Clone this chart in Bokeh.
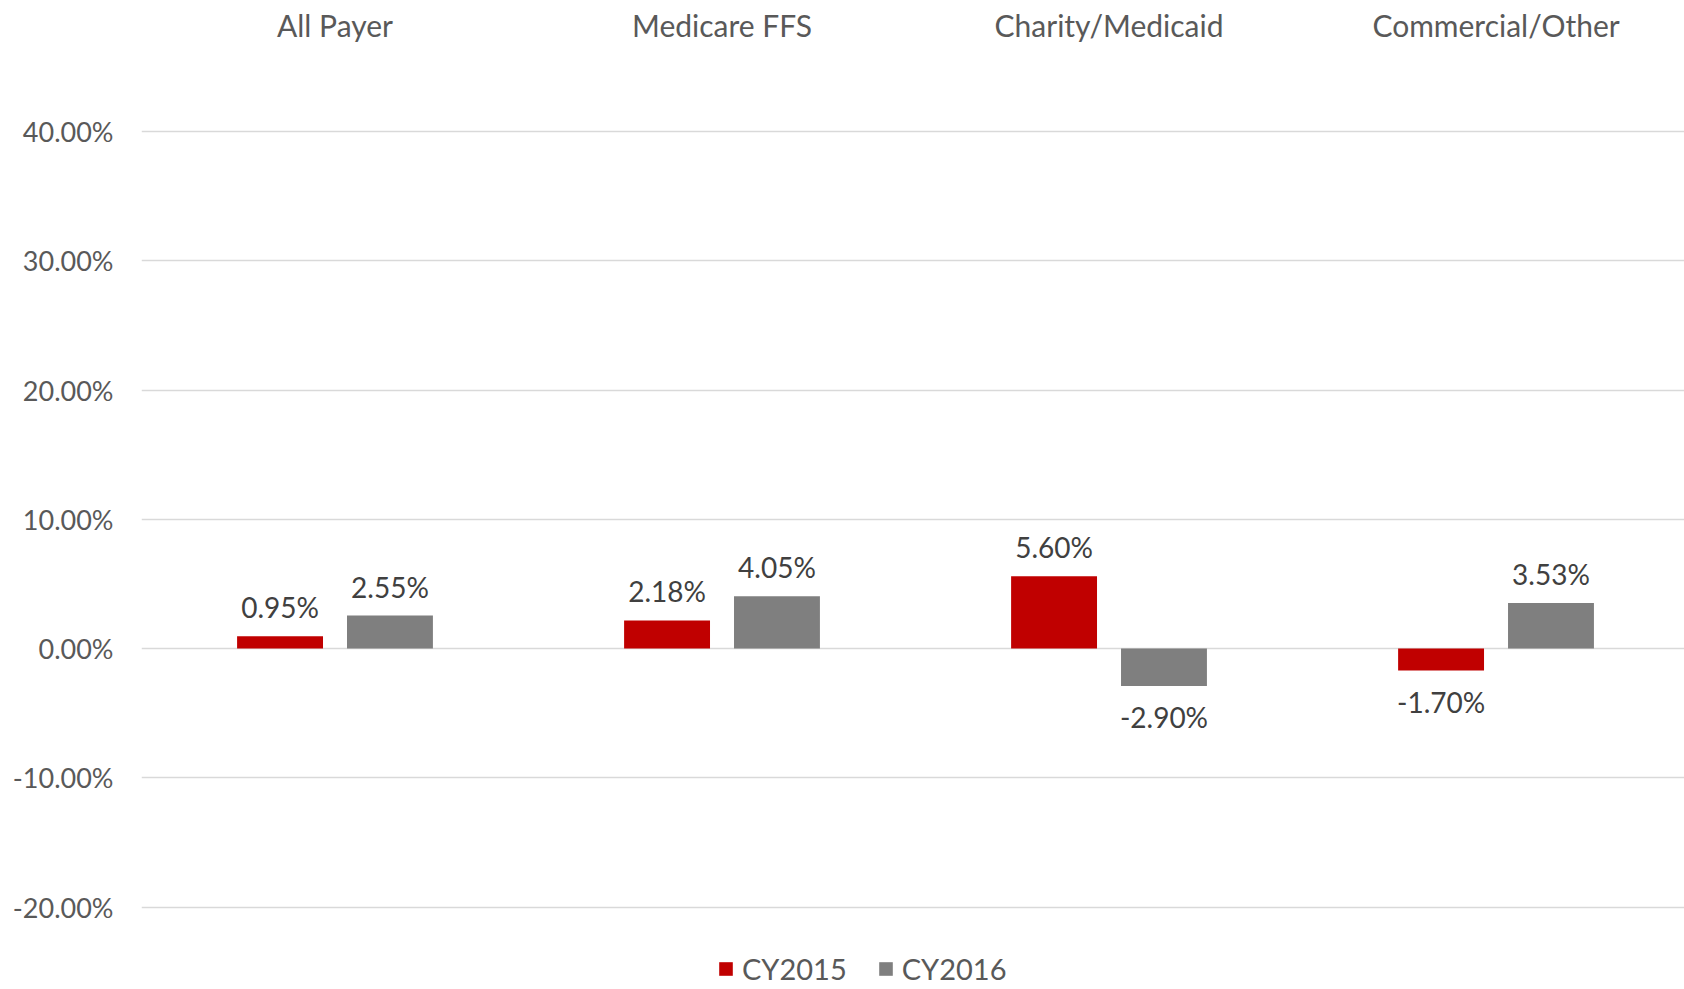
from bokeh.plotting import figure
from bokeh.models import (ColumnDataSource, Range1d, LinearAxis,
                          NumeralTickFormatter, FixedTicker, Legend, LegendItem)
from bokeh.core.properties import value
from bokeh.embed import file_html
from bokeh.resources import INLINE

categories = ["All Payer", "Medicare FFS", "Charity/Medicaid", "Commercial/Other"]
cy2015 = [0.95, 2.18, 5.60, -1.70]
cy2016 = [2.55, 4.05, -2.90, 3.53]
series_names = ["CY2015", "CY2016"]
y_ticks = [-20, -10, 0, 10, 20, 30, 40]

FONT = "Lato"
RED = "#C00000"
GRAY = "#7F7F7F"
TXT = "#595959"
LBL = "#404040"

OFF = 0.142
BAR_W = 0.222
cat_pos = [i + 0.5 for i in range(len(categories))]


def make_source(vals, shift):
    return ColumnDataSource(dict(
        x=[c + shift for c in cat_pos],
        top=[v / 100 for v in vals],
        label=[f"{v:.2f}%" for v in vals],
        yoff=[-29 if v >= 0 else 31 for v in vals],
    ))


s15 = make_source(cy2015, -OFF)
s16 = make_source(cy2016, OFF)

p = figure(width=1684, height=989, x_range=Range1d(0, 3.987),
           y_range=Range1d(-0.2637, 0.4077), output_backend="svg", toolbar_location=None,
           x_axis_location=None, y_axis_location=None,
           min_border_left=141, min_border_right=0, min_border_top=121, min_border_bottom=0)
p.outline_line_color = None
p.background_fill_color = "white"
p.border_fill_color = "white"

yax = LinearAxis(ticker=FixedTicker(ticks=[t / 100 for t in y_ticks]),
                 formatter=NumeralTickFormatter(format="0.00%"))
yax.axis_line_color = None
yax.major_tick_line_color = None
yax.minor_tick_line_color = None
yax.major_label_text_font = FONT
yax.major_label_text_font_size = "27px"
yax.major_label_text_color = TXT
yax.major_label_standoff = 22
p.add_layout(yax, "left")

xax = LinearAxis(ticker=FixedTicker(ticks=cat_pos),
                 major_label_overrides={c: name for c, name in zip(cat_pos, categories)})
xax.axis_line_color = None
xax.major_tick_line_color = None
xax.minor_tick_line_color = None
xax.major_tick_out = 0
xax.major_tick_in = 0
xax.major_label_text_font = FONT
xax.major_label_text_font_size = "30px"
xax.major_label_text_color = TXT
xax.major_label_standoff = 79
p.add_layout(xax, "above")

p.xgrid.grid_line_color = None
p.ygrid.ticker = FixedTicker(ticks=[t / 100 for t in y_ticks])
p.ygrid.grid_line_color = "#D9D9D9"
p.ygrid.grid_line_width = 1.5

r15 = p.vbar(x="x", top="top", bottom=0, width=BAR_W, source=s15,
             fill_color=RED, line_color=None)
r16 = p.vbar(x="x", top="top", bottom=0, width=BAR_W, source=s16,
             fill_color=GRAY, line_color=None)

for src in (s15, s16):
    p.text(x="x", y="top", text="label", source=src,
           text_align="center", text_baseline="alphabetic", y_offset="yoff",
           text_font=value(FONT), text_font_size="28px", text_color=LBL)

legend = Legend(items=[LegendItem(label=series_names[0], renderers=[r15]),
                       LegendItem(label=series_names[1], renderers=[r16])],
                orientation="horizontal", location=(576, 3),
                label_text_font=FONT, label_text_font_size="29px", label_text_color=TXT,
                glyph_width=17, glyph_height=17, spacing=30, label_standoff=8,
                border_line_color=None, background_fill_alpha=0, padding=0, margin=0)
p.add_layout(legend)

open("out.html", "w").write(file_html(p, INLINE))
